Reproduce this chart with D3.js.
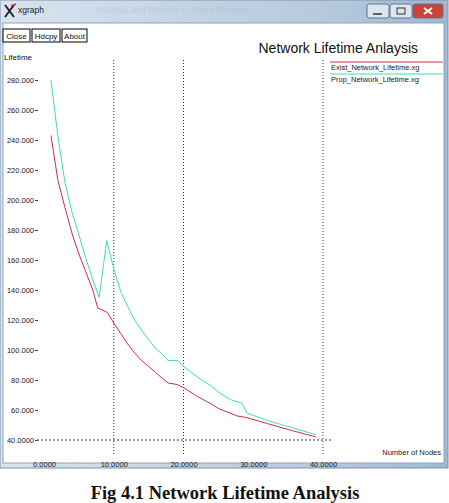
<!DOCTYPE html>
<html>
<head>
<meta charset="utf-8">
<script src="https://cdn.jsdelivr.net/npm/d3@7"></script>
<style>
  body { margin: 0; background: #fff; }
  svg { display: block; }
</style>
</head>
<body>
<svg id="chart" width="449" height="503"></svg>
<script>
// x = number of nodes, y = lifetime
const existX = [1, 2, 3, 4, 5, 6, 7, 7.7, 9.1, 10, 11, 12, 13, 14, 15, 16, 17, 17.8, 19.1, 20, 22, 24, 25, 27.7, 29, 32, 35, 39];
const existY = [243, 213, 195, 178, 164, 152, 140, 128, 125, 118, 111, 104, 98, 93, 89, 85, 81, 78, 77, 75, 69, 64, 61, 56, 55, 51, 47, 42];
const propX = [1, 2, 3, 4, 5, 6, 7, 7.9, 9, 10, 11, 12, 13, 14, 15, 16, 17, 17.8, 19.2, 20, 22, 24, 25, 26.7, 28.4, 29.1, 32, 35, 39];
const propY = [280, 242, 212, 192, 177, 161, 147, 135, 173, 154, 139, 129, 120, 113, 107, 101, 97, 93, 93, 89, 82, 76, 72, 67, 64.5, 58, 53, 49, 43.5];
const seriesNames = ["Exist_Network_Lifetime.xg", "Prop_Network_Lifetime.xg"];
const yTicks = [40, 60, 80, 100, 120, 140, 160, 180, 200, 220, 240, 260, 280];
const yTickLabels = ["40.0000", "60.000", "80.000", "100.000", "120.000", "140.000", "160.000", "180.000", "200.000", "220.000", "240.000", "260.000", "280.000"];
const xTicks = [0, 10, 20, 30, 40];
const xTickLabels = ["0.0000", "10.0000", "20.0000", "30.0000", "40.0000"];
const xGrid = [10, 20, 40];

const svg = d3.select("#chart");
const colors = ["#c9303f", "#3fe0a9"];

const x = d3.scaleLinear().domain([0, 40]).range([44, 323]);
const y = d3.scaleLinear().domain([40, 280]).range([440, 80]);

// window frame
const defs = svg.append("defs");
const grad = defs.append("linearGradient").attr("id", "tbar").attr("x1", 0).attr("x2", 1).attr("y1", 0).attr("y2", 0);
grad.append("stop").attr("offset", "0%").attr("stop-color", "#d9e4ef");
grad.append("stop").attr("offset", "45%").attr("stop-color", "#c3d3e4");
grad.append("stop").attr("offset", "75%").attr("stop-color", "#b4c8dd");
grad.append("stop").attr("offset", "100%").attr("stop-color", "#9fb8d2");

svg.append("rect").attr("x", 0).attr("y", 0).attr("width", 448).attr("height", 468)
    .attr("fill", "url(#tbar)").attr("stroke", "#7d93ab");
svg.append("rect").attr("x", 3).attr("y", 23).attr("width", 441).attr("height", 440)
    .attr("fill", "#fff").attr("stroke", "#8ea3ba");

// blurred window title behind
svg.append("text").attr("x", 95).attr("y", 13).text("Analysis and Results — Word Preview")
    .style("font-family", "Liberation Sans").style("font-size", "9px")
    .attr("fill", "#9aabbd").attr("opacity", 0.3);

// app icon + caption
const icon = svg.append("g").attr("transform", "translate(4,4)");
icon.append("path").attr("d", "M1,1 L10,13 M10,1 L1,13").attr("stroke", "#222").attr("stroke-width", 2);
icon.append("path").attr("d", "M7,2 L12,0").attr("stroke", "#d22").attr("stroke-width", 1.5);
svg.append("text").attr("x", 18).attr("y", 13).text("xgraph")
    .style("font-family", "Liberation Sans").style("font-size", "8.5px").attr("fill", "#222");

// caption buttons
const capBtn = [[367, 22, "#dde6ef"], [390, 22, "#dde6ef"], [413, 30, "#c9443a"]];
capBtn.forEach(b => {
    svg.append("rect").attr("x", b[0]).attr("y", 4).attr("width", b[1]).attr("height", 14)
        .attr("rx", 2).attr("fill", b[2]).attr("stroke", "#5f7590");
});
svg.append("line").attr("x1", 373).attr("x2", 382).attr("y1", 14).attr("y2", 14).attr("stroke", "#333").attr("stroke-width", 1.5);
svg.append("rect").attr("x", 397).attr("y", 8).attr("width", 8).attr("height", 6).attr("fill", "none").attr("stroke", "#333");
svg.append("path").attr("d", "M424,8 L432,14 M432,8 L424,14").attr("stroke", "#fff").attr("stroke-width", 2);

// xgraph buttons
const btns = [["Close", 3, 27], ["Hdcpy", 32, 28], ["About", 62, 25]];
btns.forEach(b => {
    svg.append("rect").attr("x", b[1]).attr("y", 29).attr("width", b[2]).attr("height", 13)
        .attr("fill", "#fff").attr("stroke", "#000");
    svg.append("text").attr("x", b[1] + b[2] / 2).attr("y", 39).attr("text-anchor", "middle").text(b[0])
        .style("font-family", "Liberation Sans").style("font-size", "8px").attr("fill", "#111");
});

svg.append("text").attr("x", 418).attr("y", 53).attr("text-anchor", "end").text("Network Lifetime Anlaysis")
    .style("font-family", "Liberation Sans").style("font-size", "14px").attr("fill", "#111");
svg.append("text").attr("x", 4).attr("y", 60).text("Lifetime")
    .style("font-family", "Liberation Sans").style("font-size", "8px").attr("fill", "#111");

// grid
svg.selectAll(".vgrid").data(xGrid).enter().append("line")
    .attr("class", "vgrid")
    .attr("x1", d => x(d)).attr("x2", d => x(d))
    .attr("y1", 60).attr("y2", 455)
    .attr("stroke", "#333").attr("stroke-dasharray", "1,2");
svg.append("line").attr("x1", 37).attr("x2", 331).attr("y1", y(40)).attr("y2", y(40))
    .attr("stroke", "#333").attr("stroke-dasharray", "2,2");

// axes
const yAxis = svg.append("g").attr("transform", "translate(38,0)")
    .call(d3.axisLeft(y).tickValues(yTicks).tickSize(3).tickPadding(1)
        .tickFormat((d, i) => yTickLabels[i]));
yAxis.select(".domain").remove();
yAxis.selectAll("text").style("font-family", "Liberation Sans").style("font-size", "7.5px").attr("fill", "#222");
yAxis.selectAll("line").attr("stroke", "#444");

const xAxis = svg.append("g").attr("transform", "translate(0,455)")
    .call(d3.axisBottom(x).tickValues(xTicks).tickSize(0).tickPadding(7)
        .tickFormat((d, i) => xTickLabels[i]));
xAxis.select(".domain").remove();
xAxis.selectAll("text").style("font-family", "Liberation Sans").style("font-size", "7.5px").attr("fill", "#222");

svg.append("text").attr("x", 441).attr("y", 455).attr("text-anchor", "end").text("Number of Nodes")
    .style("font-family", "Liberation Sans").style("font-size", "7.5px").attr("fill", "#222");

// series
const line = d3.line().x(d => x(d[0])).y(d => y(d[1]));
const series = [d3.zip(existX, existY), d3.zip(propX, propY)];
svg.selectAll(".series").data(series).enter().append("path")
    .attr("class", "series")
    .attr("d", line)
    .attr("fill", "none")
    .attr("stroke", (d, i) => colors[i])
    .attr("stroke-width", 1);

// legend
seriesNames.forEach((name, i) => {
    svg.append("line").attr("x1", 330).attr("x2", 443).attr("y1", 62 + i * 12).attr("y2", 62 + i * 12)
        .attr("stroke", colors[i]).attr("stroke-width", 1);
    svg.append("text").attr("x", 331).attr("y", 69.5 + i * 12).text(name)
        .style("font-family", "Liberation Sans").style("font-size", "7.5px").attr("fill", "#222");
});

// figure caption
svg.append("text").attr("x", 225).attr("y", 499).attr("text-anchor", "middle").text("Fig 4.1 Network Lifetime Analysis")
    .style("font-family", "Liberation Serif").style("font-weight", "bold").style("font-size", "18.5px").attr("fill", "#111");
</script>
</body>
</html>
